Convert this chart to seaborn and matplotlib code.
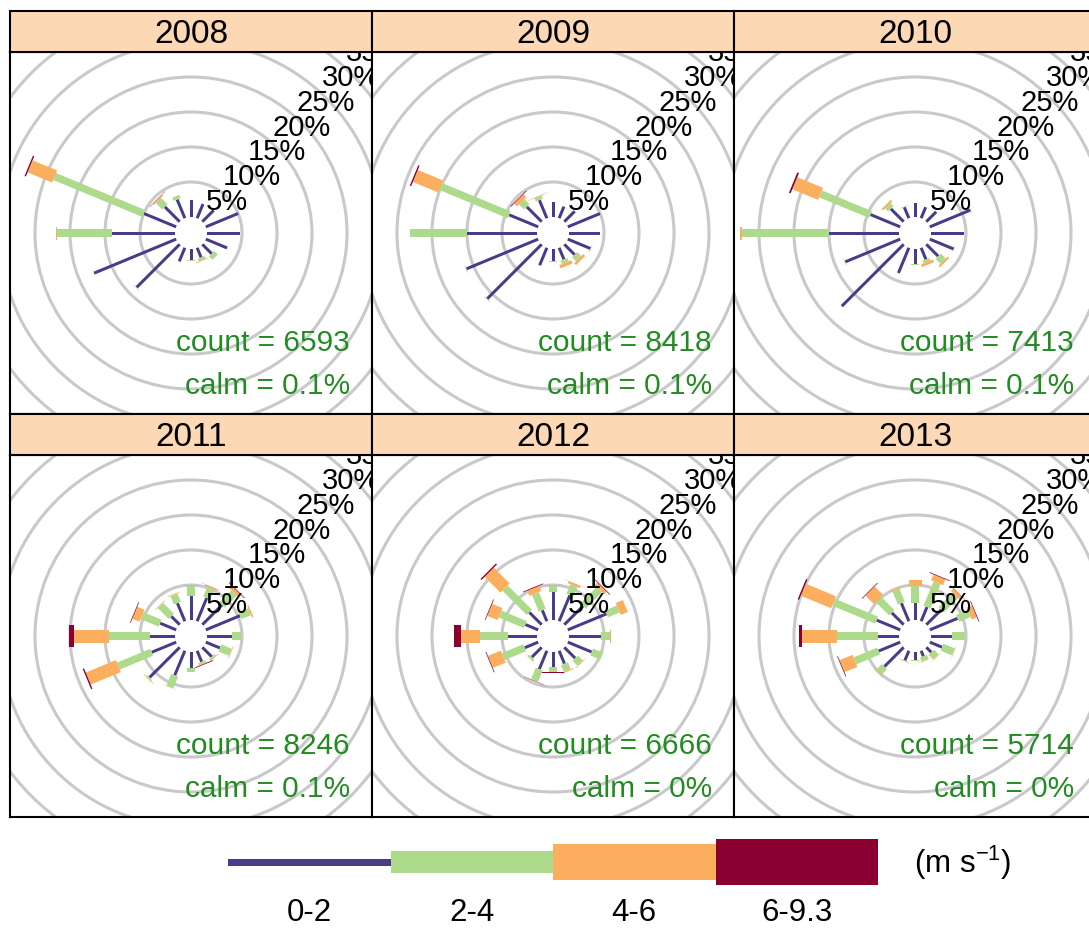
import numpy as np
import pandas as pd
import matplotlib
matplotlib.use("Agg")
import matplotlib.pyplot as plt
from matplotlib.patches import Rectangle, Polygon, Circle
import seaborn as sns

# ---------------------------------------------------------------- data
years = ["2008", "2009", "2010", "2011", "2012", "2013"]
directions = ["N", "NNE", "NE", "ENE", "E", "ESE", "SE", "SSE",
              "S", "SSW", "SW", "WSW", "W", "WNW", "NW", "NNW"]
speed_bins = ["0-2", "2-4", "4-6", "6-9.3"]
counts = [6593, 8418, 7413, 8246, 6666, 5714]
calms = ["0.1%", "0.1%", "0.1%", "0.1%", "0%", "0%"]
ring_pcts = [5, 10, 15, 20, 25, 30, 35]

# frequency (%) of each speed class, by direction (N clockwise)
y2008_0_2 = [2.4, 2.2, 2.3, 5.0, 4.7, 3.3, 1.9, 1.5, 1.6, 2.1, 8.7, 12.7, 9.0, 5.0, 3.0, 2.9]
y2008_2_4 = [0, 0, 0, 0, 0, 0, 0.7, 0.4, 0.1, 0, 0.1, 0.05, 7.9, 13.8, 1.3, 0.5]
y2008_4_6 = [0, 0, 0, 0, 0, 0, 0, 0.1, 0, 0, 0, 0, 0.1, 3.8, 0.2, 0]
y2008_6_9 = [0, 0, 0, 0, 0, 0, 0, 0, 0, 0, 0, 0, 0, 0.2, 0.05, 0]

y2009_0_2 = [2.2, 1.8, 2.1, 5.0, 4.4, 3.5, 2.1, 1.8, 1.7, 2.7, 11.0, 11.1, 10.0, 4.5, 3.0, 2.8]
y2009_2_4 = [0, 0, 0, 0.05, 0, 0.1, 0.8, 0.5, 0.1, 0, 0.1, 0.1, 8.1, 10.6, 1.0, 0.5]
y2009_4_6 = [0, 0, 0, 0, 0, 0, 0.4, 0.5, 0, 0, 0, 0, 0.1, 3.9, 0.6, 0.05]
y2009_6_9 = [0, 0, 0, 0, 0, 0, 0, 0, 0, 0, 0, 0, 0, 0.2, 0.1, 0.02]

y2010_0_2 = [2.0, 1.7, 2.0, 6.3, 4.7, 3.7, 2.4, 1.8, 2.2, 3.9, 12.5, 8.5, 10.0, 4.6, 2.6, 1.7]
y2010_2_4 = [0, 0, 0, 0.05, 0, 0.05, 1.0, 0.4, 0.05, 0, 0, 0.1, 12.5, 7.7, 0.6, 0.1]
y2010_4_6 = [0, 0, 0, 0, 0, 0, 0.3, 0.4, 0, 0, 0, 0, 0.2, 4.0, 0.3, 0]
y2010_6_9 = [0, 0, 0, 0, 0, 0, 0, 0, 0, 0, 0, 0, 0, 0.25, 0, 0]

y2011_0_2 = [3.5, 3.6, 4.0, 5.3, 3.5, 2.2, 1.9, 1.7, 2.3, 3.8, 6.1, 3.8, 3.6, 2.5, 1.7, 2.8]
y2011_2_4 = [1.4, 1.5, 2.4, 1.5, 1.3, 1.6, 0.3, 0.3, 0.5, 1.8, 0.2, 5.15, 5.9, 2.8, 2.2, 1.3]
y2011_4_6 = [0.1, 0.2, 0.5, 0.2, 0.05, 0.1, 0.1, 0.1, 0.1, 0.05, 0.1, 4.65, 5.0, 1.1, 0.1, 0.1]
y2011_6_9 = [0, 0.02, 0.1, 0, 0, 0, 0, 0.1, 0, 0, 0, 0.2, 0.7, 0.1, 0, 0]

y2012_0_2 = [4.0, 4.0, 3.8, 6.0, 4.5, 3.7, 2.2, 2.0, 2.1, 2.85, 2.0, 2.1, 4.1, 2.0, 2.5, 1.7]
y2012_2_4 = [0.8, 1.5, 3.3, 1.8, 1.4, 1.5, 1.0, 1.05, 0.7, 1.75, 0.3, 3.3, 4.0, 3.9, 4.9, 2.6]
y2012_4_6 = [0.2, 0.3, 0.5, 1.1, 0.1, 0.05, 0.1, 0.15, 0.1, 0.05, 0.05, 2.0, 2.7, 1.6, 3.2, 0.8]
y2012_6_9 = [0, 0.02, 0.1, 0, 0, 0, 0, 0, 0.1, 0.05, 0, 0.1, 1.1, 0.1, 0.2, 0.1]

y2013_0_2 = [2.4, 2.2, 3.0, 4.3, 2.95, 1.9, 1.0, 0.85, 1.2, 1.5, 3.9, 3.35, 2.95, 3.65, 2.4, 2.8]
y2013_2_4 = [2.5, 3.75, 2.9, 1.8, 1.9, 1.8, 1.0, 0.65, 0.1, 0.1, 1.2, 3.65, 5.95, 6.65, 2.7, 2.05]
y2013_4_6 = [0.8, 0.9, 0.5, 0.8, 0.05, 0.05, 0.05, 0.05, 0, 0.05, 0.1, 2.0, 4.9, 4.7, 1.7, 0.15]
y2013_6_9 = [0, 0.1, 0.05, 0.1, 0, 0, 0, 0, 0, 0, 0, 0.1, 0.5, 0.2, 0.1, 0]

freq_by_year = {
    "2008": [y2008_0_2, y2008_2_4, y2008_4_6, y2008_6_9],
    "2009": [y2009_0_2, y2009_2_4, y2009_4_6, y2009_6_9],
    "2010": [y2010_0_2, y2010_2_4, y2010_4_6, y2010_6_9],
    "2011": [y2011_0_2, y2011_2_4, y2011_4_6, y2011_6_9],
    "2012": [y2012_0_2, y2012_2_4, y2012_4_6, y2012_6_9],
    "2013": [y2013_0_2, y2013_2_4, y2013_4_6, y2013_6_9],
}

rows = []
for yr in years:
    for b, vals in zip(speed_bins, freq_by_year[yr]):
        for d, v in zip(directions, vals):
            rows.append({"year": yr, "direction": d, "speed": b, "freq": v})
df = pd.DataFrame(rows)

# ---------------------------------------------------------------- style
sns.set_style("white")
plt.rcParams["font.family"] = ["Liberation Sans", "DejaVu Sans"]
plt.rcParams["mathtext.fontset"] = "custom"
plt.rcParams["mathtext.rm"] = "Liberation Sans"
plt.rcParams["mathtext.it"] = "Liberation Sans:italic"

speed_colors = ["#473B8A", "#AEDB8B", "#FCAE5F", "#8A0030"]
ring_color = "#C9C9C9"
strip_color = "#FDD8B5"
text_green = "#228B22"

W_PX, H_PX = 1089, 931
PANEL_PX = 362
STRIP_PX = 41
PX_PER_UNIT = 7.0                 # pixels per 1 % of frequency
OFFSET = 16 / PX_PER_UNIT         # empty hole in the middle
HALF_SPAN = (PANEL_PX / 2) / PX_PER_UNIT
BAR_PX = [3, 7.5, 13, 22]         # paddle widths per speed class
LABEL_DROP = 5 / PX_PER_UNIT      # ring labels sit slightly below the ring/45° crossing
count_of = dict(zip(years, counts))
calm_of = dict(zip(years, calms))


def draw_rose(data, **kws):
    ax = plt.gca()
    yr = data["year"].iloc[0]
    ax.set_xlim(-HALF_SPAN, HALF_SPAN)
    ax.set_ylim(-HALF_SPAN, HALF_SPAN)

    for pct in ring_pcts:
        r = OFFSET + pct
        ax.add_patch(Circle((0, 0), r, fill=False, ec=ring_color, lw=2.2, zorder=1))
        c = r * np.cos(np.pi / 4)
        ax.text(c, c - LABEL_DROP, f"{pct}%", ha="center", va="center", fontsize=21,
                color="black", clip_on=True, zorder=5)

    wide = (data.pivot(index="direction", columns="speed", values="freq")
                .reindex(index=directions, columns=speed_bins))
    cum = wide.cumsum(axis=1)
    for i, d in enumerate(directions):
        theta = np.deg2rad(i * 22.5)
        u = np.array([np.sin(theta), np.cos(theta)])
        n = np.array([np.cos(theta), -np.sin(theta)])
        start = 0.0
        for j, b in enumerate(speed_bins):
            end = cum.loc[d, b]
            if end > start:
                hw = BAR_PX[j] / PX_PER_UNIT / 2
                p0 = (OFFSET + start) * u
                p1 = (OFFSET + end) * u
                ax.add_patch(Polygon([p0 + n * hw, p1 + n * hw, p1 - n * hw, p0 - n * hw],
                                     closed=True, fc=speed_colors[j], ec="none", zorder=3))
            start = end

    ax.text(340 / PANEL_PX, 1 - 291 / PANEL_PX, f"count = {count_of[yr]}",
            transform=ax.transAxes, ha="right", va="center", fontsize=21.5, color=text_green, zorder=6)
    ax.text(340 / PANEL_PX, 1 - 334 / PANEL_PX, f"calm = {calm_of[yr]}",
            transform=ax.transAxes, ha="right", va="center", fontsize=21.5, color=text_green, zorder=6)


g = sns.FacetGrid(df, col="year", col_wrap=3, col_order=years, height=3.62, aspect=1,
                  sharex=False, sharey=False, despine=False)
g.map_dataframe(draw_rose)
fig = g.figure
fig.set_size_inches(W_PX / 100, H_PX / 100)
fig.set_dpi(100)

for k, (yr, ax) in enumerate(zip(years, g.axes.flat)):
    row, col = divmod(k, 3)
    left = 10 + PANEL_PX * col
    top = 52 + (PANEL_PX + STRIP_PX) * row
    ax.set_position([left / W_PX, 1 - (top + PANEL_PX) / H_PX, PANEL_PX / W_PX, PANEL_PX / H_PX])
    ax.set_title("")
    ax.set_xlabel("")
    ax.set_ylabel("")
    ax.set_xticks([])
    ax.set_yticks([])
    for s in ax.spines.values():
        s.set_color("black")
        s.set_linewidth(1.5)
        s.set_visible(True)
    ax.add_patch(Rectangle((0, 1), 1, STRIP_PX / PANEL_PX, transform=ax.transAxes,
                           fc=strip_color, ec="black", lw=1.5, clip_on=False, zorder=10))
    ax.text(0.5, 1 + 17 / PANEL_PX, yr, transform=ax.transAxes, ha="center",
            va="center", fontsize=24, color="black", zorder=11)

# ---------------------------------------------------------------- speed key
leg_left, leg_right = 228, 878
leg_top, leg_bottom = 835, 931
lax = fig.add_axes([leg_left / W_PX, 1 - leg_bottom / H_PX,
                    (leg_right - leg_left) / W_PX, (leg_bottom - leg_top) / H_PX])
lax.set_xlim(0, 4)
lax.set_ylim(-(leg_bottom - 862), 862 - leg_top)
key_heights = [7, 22, 36, 46]
lax.barh(y=[0, 0, 0, 0], width=[1, 1, 1, 1], left=[0, 1, 2, 3], height=key_heights,
         color=speed_colors, edgecolor="none", align="center")
for j, b in enumerate(speed_bins):
    lax.text(j + 0.5, -51, b, ha="center", va="center", fontsize=22.5, color="black")
lax.text(4.52, -1, r"(m s$^{-1}$)", ha="center", va="center", fontsize=22.5, color="black")
lax.axis("off")

fig.savefig("out.png", dpi=100, facecolor="white")
